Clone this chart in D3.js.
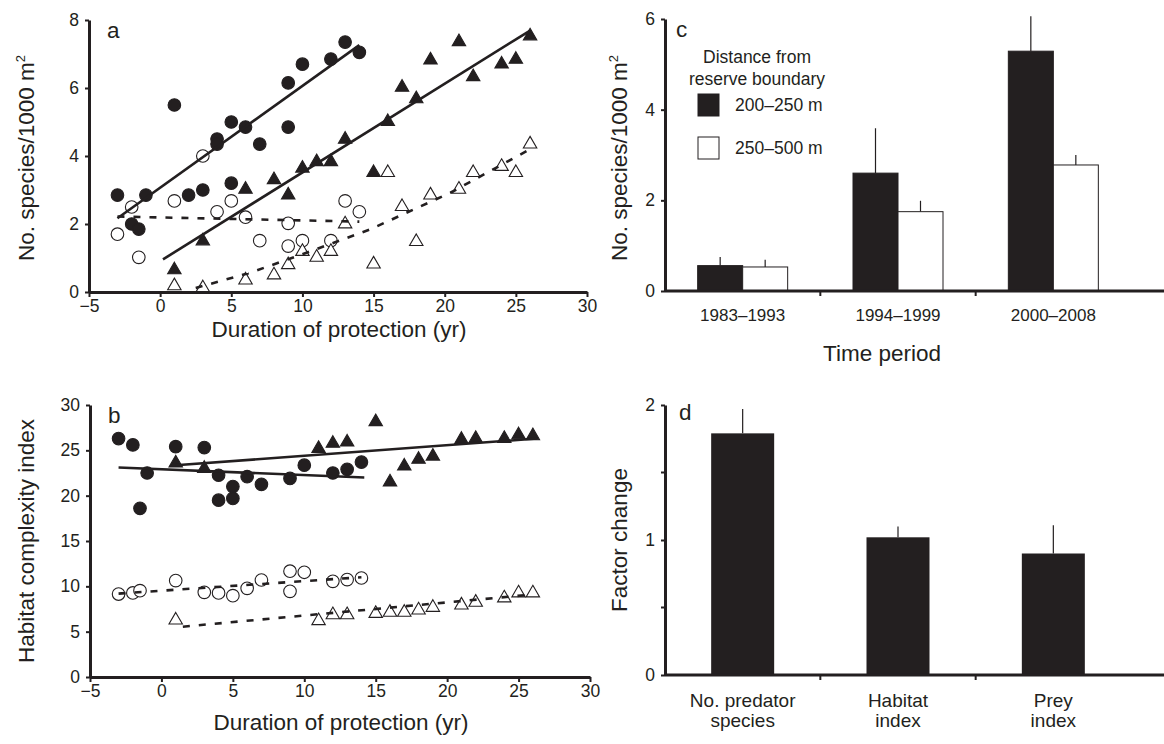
<!DOCTYPE html>
<html>
<head>
<meta charset="utf-8">
<script src="https://cdn.jsdelivr.net/npm/d3@7/dist/d3.min.js"></script>
<style>
  html, body { margin: 0; padding: 0; background: #fff; }
  svg { display: block; font-family: "Liberation Sans", Arial, sans-serif; }
</style>
</head>
<body>
<svg id="chart" width="1164" height="744"></svg>
<script>
// ---------- Panel a: No. species / 1000 m2 vs duration of protection ----------
const aFilledCircles = [[-3,2.85],[-2,2.0],[-1.5,1.85],[-1,2.85],[1,5.5],[2,2.85],[3,3.0],[4,4.5],[4,4.35],[5,5.0],[5,3.2],[6,4.85],[7,4.35],[9,6.15],[9,4.85],[10,6.7],[12,6.85],[13,7.35],[14,7.05]];
const aOpenCircles = [[-3,1.7],[-2,2.5],[-1.5,1.02],[1,2.68],[3,4.0],[4,2.36],[5,2.68],[6,2.2],[7,1.51],[9,2.02],[9,1.35],[10,1.51],[12,1.51],[13,2.68],[14,2.36]];
const aFilledTriangles = [[1,0.65],[3,1.5],[6,3.02],[8,3.3],[9,2.85],[10,3.64],[11,3.83],[12,3.83],[13,4.49],[15,3.51],[16,5.01],[17,6.02],[18,5.68],[19,6.82],[21,7.36],[22,6.33],[24,6.7],[25,6.84],[26,7.53]];
const aOpenTriangles = [[1,0.18],[3,0.12],[6,0.35],[8,0.5],[9,0.8],[10,1.19],[11,1.02],[12,1.19],[13,2.0],[15,0.82],[16,3.51],[17,2.51],[18,1.48],[19,2.85],[21,3.02],[22,3.51],[24,3.69],[25,3.51],[26,4.35]];
const aFitFilledCircles = [[-3,2.17],[14,7.26]];
const aFitFilledTriangles = [[0.2,0.96],[26,7.69]];
const aFitOpenCircles = [[-3,2.22],[14,2.07]];
const aFitOpenTriangles = [[2.5,0.12],[6.2,0.55],[9.2,0.99],[14.75,1.84],[20.4,2.92],[26,4.2]];
const aYTicks = [0,2,4,6,8];
const durationTicks = [-5,0,5,10,15,20,25,30];

// ---------- Panel b: Habitat complexity index ----------
const bFilledCircles = [[-3,26.3],[-2,25.6],[-1.5,18.6],[-1,22.5],[1,25.4],[3,25.3],[4,22.25],[4,19.5],[5,21.0],[5,19.7],[6,22.1],[7,21.25],[9,21.9],[10,23.36],[12,22.5],[13,22.9],[14,23.7]];
const bFilledTriangles = [[1,23.6],[3,23.0],[11,25.2],[12,25.76],[13,25.9],[15,28.15],[16,21.5],[17,23.25],[18,24.0],[19,24.35],[21,26.2],[22,26.3],[24,26.3],[25,26.7],[26,26.6]];
const bOpenCircles = [[-3,9.15],[-2,9.27],[-1.5,9.52],[1,10.63],[3,9.34],[4,9.27],[5,8.97],[6,9.78],[7,10.7],[9,11.67],[9,9.45],[10,11.55],[12,10.55],[13,10.74],[14,10.92]];
const bOpenTriangles = [[1,6.27],[11,6.2],[12,6.86],[13,6.86],[15,7.0],[16,7.12],[17,7.12],[18,7.38],[19,7.67],[21,7.93],[22,8.23],[24,8.71],[25,9.26],[26,9.26]];
const bFitFilledCircles = [[-3,23.1],[14.2,22.0]];
const bFitFilledTriangles = [[1,23.35],[26.3,26.3]];
const bFitOpenCircles = [[-3,9.2],[14,11.0]];
const bFitOpenTriangles = [[1.5,5.55],[26,9.1]];
const bYTicks = [0,5,10,15,20,25,30];

// ---------- Panel c: species by time period and distance ----------
const periods = ["1983–1993","1994–1999","2000–2008"];
const distances = ["200–250 m","250–500 m"];
const cNear = [0.56, 2.6, 5.29];
const cNearErr = [0.19, 0.99, 0.77];
const cFar = [0.53, 1.75, 2.78];
const cFarErr = [0.16, 0.24, 0.22];
const cYTicks = [0,2,4,6];

// ---------- Panel d: factor change ----------
const dCategories = [["No. predator","species"],["Habitat","index"],["Prey","index"]];
const dValues = [1.79, 1.02, 0.90];
const dErr = [0.18, 0.08, 0.21];
const dYTicks = [0,1,2];
const dYMinorTicks = [0.5,1.5];

const BLACK = "#231f20";
const svg = d3.select("#chart");

function styleAxis(g) {
  g.select(".domain").attr("stroke", BLACK).attr("stroke-width", 3);
  g.selectAll(".tick line").attr("stroke", BLACK).attr("stroke-width", 2);
  g.selectAll(".tick text").attr("fill", BLACK).attr("font-size", 17.5)
    .attr("font-family", "Liberation Sans, Arial, sans-serif");
}

function yTitle(x, y, main, sup) {
  const t = svg.append("text").attr("transform", `translate(${x},${y}) rotate(-90)`)
    .attr("text-anchor", "middle").attr("font-size", 22.5).attr("fill", BLACK);
  t.append("tspan").text(main);
  if (sup) t.append("tspan").attr("font-size", 13).attr("dy", -9).text(sup);
}

function scatterPanel(cfg) {
  const x = d3.scaleLinear().domain([-5, 30]).range(cfg.xr);
  const y = d3.scaleLinear().domain(cfg.yd).range(cfg.yr);
  const line = d3.line().x(d => x(d[0])).y(d => y(d[1]));

  const circ = (data, fill) => svg.append("g").selectAll("circle").data(data).join("circle")
    .attr("cx", d => x(d[0])).attr("cy", d => y(d[1])).attr("r", 6.3)
    .attr("fill", fill).attr("stroke", BLACK).attr("stroke-width", 1.1);
  const tri = d3.symbol().type(d3.symbolTriangle).size(78);
  const tris = (data, fill) => svg.append("g").selectAll("path").data(data).join("path")
    .attr("d", tri).attr("transform", d => `translate(${x(d[0])},${y(d[1])})`)
    .attr("fill", fill).attr("stroke", BLACK).attr("stroke-width", 1.1);

  circ(cfg.openC, "#fff");
  tris(cfg.openT, "#fff");
  circ(cfg.filledC, BLACK);
  tris(cfg.filledT, BLACK);

  const fit = (d, dashed) => svg.append("path").datum(d).attr("d", line)
    .attr("fill", "none").attr("stroke", BLACK).attr("stroke-width", 2.6)
    .attr("stroke-dasharray", dashed ? "7,9" : null);
  fit(cfg.fitFC, false);
  fit(cfg.fitFT, false);
  fit(cfg.fitOC, true);
  fit(cfg.fitOT, true);

  svg.append("g").attr("transform", `translate(0,${cfg.yr[0]})`)
    .call(d3.axisBottom(x).tickValues(durationTicks).tickSize(5).tickSizeOuter(0).tickPadding(3).tickFormat(d3.format("d")))
    .call(styleAxis);
  svg.append("g").attr("transform", `translate(${cfg.xr[0]},0)`)
    .call(d3.axisLeft(y).tickValues(cfg.yTicks).tickSize(4).tickSizeOuter(0).tickPadding(6))
    .call(styleAxis);

  svg.append("text").attr("x", cfg.xr[0] + 18).attr("y", cfg.yr[1] + 18)
    .attr("font-size", 22.5).attr("fill", BLACK).text(cfg.letter);
  svg.append("text").attr("x", (cfg.xr[0] + cfg.xr[1]) / 2 + 1).attr("y", cfg.yr[0] + cfg.titleDy)
    .attr("text-anchor", "middle").attr("font-size", 22.5).attr("fill", BLACK)
    .text("Duration of protection (yr)");
}

scatterPanel({
  xr: [89, 587], yd: [0, 8], yr: [292, 20], yTicks: aYTicks, letter: "a", titleDy: 45,
  filledC: aFilledCircles, openC: aOpenCircles, filledT: aFilledTriangles, openT: aOpenTriangles,
  fitFC: aFitFilledCircles, fitFT: aFitFilledTriangles, fitOC: aFitOpenCircles, fitOT: aFitOpenTriangles
});
yTitle(34, 158, "No. species/1000 m", "2");

scatterPanel({
  xr: [90, 590], yd: [0, 30], yr: [677, 405], yTicks: bYTicks, letter: "b", titleDy: 53,
  filledC: bFilledCircles, openC: bOpenCircles, filledT: bFilledTriangles, openT: bOpenTriangles,
  fitFC: bFitFilledCircles, fitFT: bFitFilledTriangles, fitOC: bFitOpenCircles, fitOT: bFitOpenTriangles
});
yTitle(34, 541, "Habitat complexity index");

// ---------- Panel c ----------
{
  const x0 = d3.scaleBand().domain(periods).range([665, 1131]).paddingInner(0).paddingOuter(0);
  const x1 = d3.scaleBand().domain(distances).range([0, 90]);
  const y = d3.scaleLinear().domain([0, 6]).range([291, 19]);
  const rows = periods.map((p, i) => ({ p, vals: [
    { k: distances[0], v: cNear[i], e: cNearErr[i], fill: BLACK },
    { k: distances[1], v: cFar[i], e: cFarErr[i], fill: "#fff" }
  ]}));
  const grp = svg.append("g").selectAll("g").data(rows).join("g")
    .attr("transform", d => `translate(${x0(d.p) + x0.bandwidth() / 2 - 45},0)`);
  grp.selectAll("line.err").data(d => d.vals).join("line").attr("class", "err")
    .attr("x1", d => x1(d.k) + x1.bandwidth() / 2).attr("x2", d => x1(d.k) + x1.bandwidth() / 2)
    .attr("y1", d => y(d.v)).attr("y2", d => y(d.v + d.e))
    .attr("stroke", BLACK).attr("stroke-width", 1.2);
  grp.selectAll("rect").data(d => d.vals).join("rect")
    .attr("x", d => x1(d.k)).attr("width", x1.bandwidth())
    .attr("y", d => y(d.v)).attr("height", d => y(0) - y(d.v))
    .attr("fill", d => d.fill).attr("stroke", BLACK).attr("stroke-width", 1);

  svg.append("line").attr("x1", 665).attr("x2", 1164).attr("y1", y(0)).attr("y2", y(0))
    .attr("stroke", BLACK).attr("stroke-width", 3);
  svg.append("g").selectAll("line").data(periods.slice(1)).join("line")
    .attr("x1", d => x0(d)).attr("x2", d => x0(d)).attr("y1", y(0)).attr("y2", y(0) + 5)
    .attr("stroke", BLACK).attr("stroke-width", 2);
  svg.append("g").selectAll("text").data(periods).join("text")
    .attr("x", d => x0(d) + x0.bandwidth() / 2).attr("y", y(0) + 30)
    .attr("text-anchor", "middle").attr("font-size", 17).attr("fill", BLACK).text(d => d);
  svg.append("g").attr("transform", "translate(665,0)")
    .call(d3.axisLeft(y).tickValues(cYTicks).tickFormat(d3.format("d")).tickSize(4).tickSizeOuter(0).tickPadding(6))
    .call(styleAxis);

  svg.append("text").attr("x", 676).attr("y", 37).attr("font-size", 22.5).attr("fill", BLACK).text("c");
  svg.append("text").attr("x", 882).attr("y", 361).attr("text-anchor", "middle")
    .attr("font-size", 22.5).attr("fill", BLACK).text("Time period");
  yTitle(627, 158, "No. species/1000 m", "2");

  svg.append("text").attr("x", 757).attr("y", 63).attr("text-anchor", "middle")
    .attr("font-size", 17.5).attr("fill", BLACK).text("Distance from");
  svg.append("text").attr("x", 757).attr("y", 85).attr("text-anchor", "middle")
    .attr("font-size", 17.5).attr("fill", BLACK).text("reserve boundary");
  const lg = svg.append("g").selectAll("g").data(distances).join("g")
    .attr("transform", (d, i) => `translate(698,${94 + i * 43})`);
  lg.append("rect").attr("width", 21).attr("height", 22)
    .attr("fill", (d, i) => i === 0 ? BLACK : "#fff").attr("stroke", BLACK).attr("stroke-width", 1);
  lg.append("text").attr("x", 37).attr("y", 17).attr("font-size", 17.5).attr("fill", BLACK).text(d => d);
}

// ---------- Panel d ----------
{
  const labels = dCategories.map(d => d.join(" "));
  const x = d3.scaleBand().domain(labels).range([665, 1131]);
  const y = d3.scaleLinear().domain([0, 2]).range([675, 405]);
  const bw = 63;
  const rows = labels.map((l, i) => ({ l, v: dValues[i], e: dErr[i], lines: dCategories[i] }));
  svg.append("g").selectAll("line").data(rows).join("line")
    .attr("x1", d => x(d.l) + x.bandwidth() / 2).attr("x2", d => x(d.l) + x.bandwidth() / 2)
    .attr("y1", d => y(d.v)).attr("y2", d => y(d.v + d.e))
    .attr("stroke", BLACK).attr("stroke-width", 1.2);
  svg.append("g").selectAll("rect").data(rows).join("rect")
    .attr("x", d => x(d.l) + x.bandwidth() / 2 - bw / 2).attr("width", bw)
    .attr("y", d => y(d.v)).attr("height", d => y(0) - y(d.v)).attr("fill", BLACK);

  svg.append("line").attr("x1", 665).attr("x2", 1164).attr("y1", y(0)).attr("y2", y(0))
    .attr("stroke", BLACK).attr("stroke-width", 3);
  svg.append("g").selectAll("line").data(labels.slice(1)).join("line")
    .attr("x1", d => x(d)).attr("x2", d => x(d)).attr("y1", y(0)).attr("y2", y(0) + 5)
    .attr("stroke", BLACK).attr("stroke-width", 2);
  const tl = svg.append("g").selectAll("text").data(rows).join("text")
    .attr("text-anchor", "middle").attr("font-size", 19).attr("fill", BLACK);
  tl.selectAll("tspan").data(d => d.lines.map(s => ({ s, cx: x(d.l) + x.bandwidth() / 2 }))).join("tspan")
    .attr("x", d => d.cx).attr("y", (d, i) => y(0) + 32 + i * 20).text(d => d.s);

  svg.append("g").attr("transform", "translate(665,0)")
    .call(d3.axisLeft(y).tickValues(dYTicks).tickFormat(d3.format("d")).tickSize(4).tickSizeOuter(0).tickPadding(6))
    .call(styleAxis);
  svg.append("g").selectAll("line").data(dYMinorTicks).join("line")
    .attr("x1", 661).attr("x2", 665).attr("y1", d => y(d)).attr("y2", d => y(d))
    .attr("stroke", BLACK).attr("stroke-width", 2);

  svg.append("text").attr("x", 679).attr("y", 420).attr("font-size", 22.5).attr("fill", BLACK).text("d");
  yTitle(627, 540, "Factor change");
}
</script>
</body>
</html>
